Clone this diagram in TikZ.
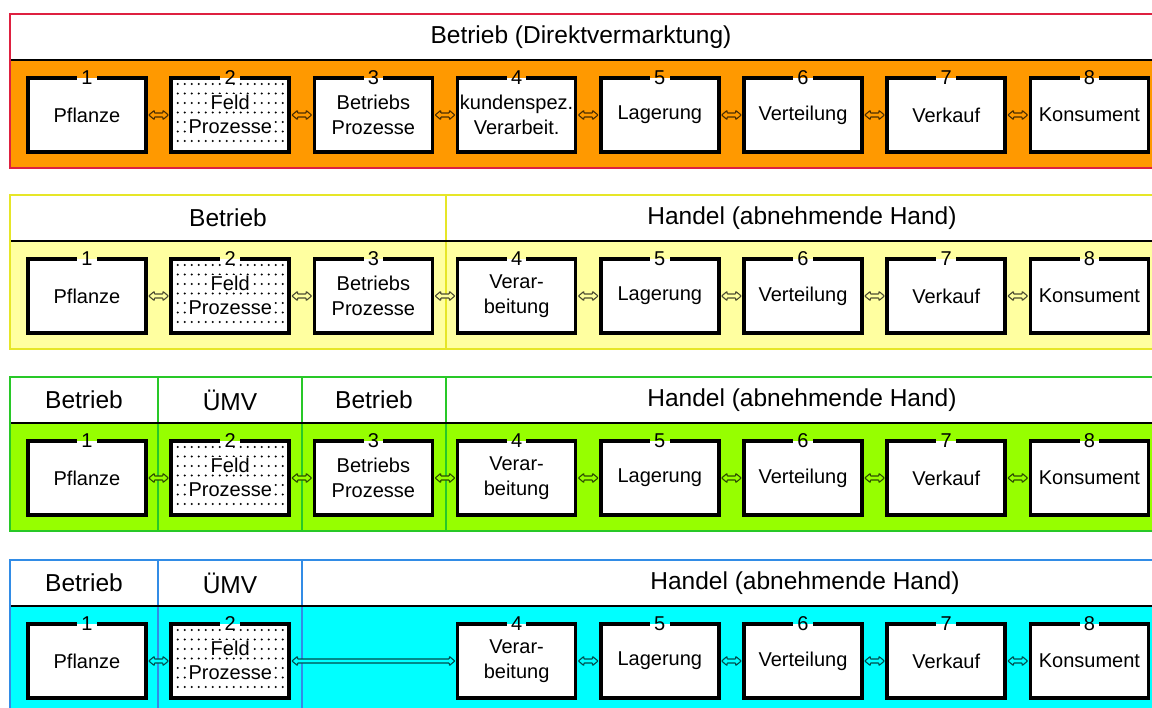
\documentclass[tikz,border=0pt]{standalone}
\usepackage{fontspec}
\setmainfont{Liberation Sans}
\usetikzlibrary{calc}

\definecolor{orangebody}{RGB}{255,153,0}
\definecolor{redframe}{RGB}{222,32,64}
\definecolor{yellowbody}{RGB}{255,255,160}
\definecolor{yellowframe}{RGB}{230,230,40}
\definecolor{greenbody}{RGB}{150,255,0}
\definecolor{greenframe}{RGB}{40,200,40}
\definecolor{cyanbody}{RGB}{0,255,255}
\definecolor{blueframe}{RGB}{50,140,230}

\tikzset{
  procbox/.style={fill=white, minimum width=118bp, minimum height=74bp,
    inner sep=0pt, outer sep=0pt, align=center,
    font=\fontsize{20bp}{25bp}\selectfont},
  numlabel/.style={font=\fontsize{20bp}{20bp}\selectfont, inner sep=0pt,
    outer sep=0pt, minimum width=23bp, minimum height=14bp},
  boxline/.style={line width=3.5bp, line cap=rect, line join=miter},
  fieldtext/.style={fill=white, inner sep=1bp, font=\fontsize{20bp}{25bp}\selectfont},
  headtext/.style={font=\fontsize{24.5bp}{28bp}\selectfont, inner sep=0pt},
  arrowline/.style={draw=#1!30!black, fill=#1, line width=1.1bp,
    line join=round, rounded corners=0.6bp},
}

% band: top edge, body colour, frame colour, divider positions
\newcommand\bandbg[4]{%
  \fill[#2] (10,#1+46) rectangle (1162,#1+154);
  \fill[white] (10,#1) rectangle (1162,#1+46);
  \foreach \dx in {#4} {\draw[#3, line width=1.6bp] (\dx,#1) -- (\dx,#1+154);}
  \draw[line width=2bp] (10,#1+46) -- (1162,#1+46);
  \draw[#3, line width=2bp] (10,#1) rectangle (1162,#1+154);
}

% process step: name, column, band top, number, text
\newcommand\procstep[5]{%
  \pgfmathsetmacro\px{87+143.2*(#2-1)}%
  \pgfmathsetmacro\py{#3+101}%
  \node[procbox] (#1) at (\px,\py) {#5};
  \node[numlabel] (#1n) at (#1.north) {#4};
  \draw[boxline] (#1n.east) -| (#1.south east) -| (#1.north west) -- (#1n.west);
}

% dotted field step in column 2: name, band top
\newcommand\fieldstep[2]{%
  \pgfmathsetmacro\px{87+143.2}%
  \pgfmathsetmacro\py{#2+101}%
  \node[procbox] (#1) at (\px,\py) {};
  \foreach \i in {0,...,15} {\foreach \j in {0,...,6} {%
    \fill (\px-52.5+7*\i, \py-31+9.5*\j) circle (1.15bp);}}
  \fill[white] (\px-9,\py-35.5) rectangle (\px+3,\py-28);
  \node[fieldtext] at (\px,\py-13) {Feld};
  \node[fieldtext] at (\px,\py+12) {Prozesse};
  \node[numlabel] (#1n) at (#1.north) {2};
  \draw[boxline] (#1n.east) -| (#1.south east) -| (#1.north west) -- (#1n.west);
}

% hollow double-headed arrow between two steps: from, to, colour
\newcommand\biarrow[3]{%
  \draw[arrowline=#3] let \p1=(#1.east), \p2=(#2.west) in
    (\x1+2.8bp,\y1) -- (\x1+8.3bp,\y1+4.6bp) -- (\x1+8.3bp,\y1+2bp)
    -- (\x2-8.3bp,\y1+2bp) -- (\x2-8.3bp,\y1+4.6bp) -- (\x2-2.8bp,\y1)
    -- (\x2-8.3bp,\y1-4.6bp) -- (\x2-8.3bp,\y1-2bp) -- (\x1+8.3bp,\y1-2bp)
    -- (\x1+8.3bp,\y1-4.6bp) -- cycle;
}

\begin{document}
\begin{tikzpicture}[x=1bp, y=-1bp]
\useasboundingbox (0,0) rectangle (1152,708);
\clip (0,0) rectangle (1152,708);
\fill[white] (0,0) rectangle (1152,708);

% ---- direct marketing chain
\bandbg{14}{orangebody}{redframe}{}
\node[headtext] (h1) at (581,37) {Betrieb (Direktvermarktung)};
\procstep{a1}{1}{14}{1}{Pflanze}
\fieldstep{a2}{14}
\procstep{a3}{3}{14}{3}{Betriebs\\Prozesse}
\procstep{a4}{4}{14}{4}{kundenspez.\\Verarbeit.}
\procstep{a5}{5}{14}{5}{Lagerung}
\procstep{a6}{6}{14}{6}{Verteilung}
\procstep{a7}{7}{14}{7}{Verkauf}
\procstep{a8}{8}{14}{8}{Konsument}
\foreach \u/\v in {a1/a2,a2/a3,a3/a4,a4/a5,a5/a6,a6/a7,a7/a8}
  {\biarrow{\u}{\v}{orangebody}}

% ---- farm and trade
\bandbg{195}{yellowbody}{yellowframe}{446}
\node[headtext] (h2a) at (228,218) {Betrieb};
\node[headtext] (h2b) at (802,218) {Handel (abnehmende Hand)};
\procstep{b1}{1}{195}{1}{Pflanze}
\fieldstep{b2}{195}
\procstep{b3}{3}{195}{3}{Betriebs\\Prozesse}
\procstep{b4}{4}{195}{4}{Verar-\\beitung}
\procstep{b5}{5}{195}{5}{Lagerung}
\procstep{b6}{6}{195}{6}{Verteilung}
\procstep{b7}{7}{195}{7}{Verkauf}
\procstep{b8}{8}{195}{8}{Konsument}
\foreach \u/\v in {b1/b2,b2/b3,b3/b4,b4/b5,b5/b6,b6/b7,b7/b8}
  {\biarrow{\u}{\v}{yellowbody}}

% ---- farm, machinery ring, farm, trade
\bandbg{377}{greenbody}{greenframe}{158,302,446}
\node[headtext] (h3a) at (84,400) {Betrieb};
\node[headtext] (h3b) at (230,400) {ÜMV};
\node[headtext] (h3c) at (374,400) {Betrieb};
\node[headtext] (h3d) at (802,400) {Handel (abnehmende Hand)};
\procstep{c1}{1}{377}{1}{Pflanze}
\fieldstep{c2}{377}
\procstep{c3}{3}{377}{3}{Betriebs\\Prozesse}
\procstep{c4}{4}{377}{4}{Verar-\\beitung}
\procstep{c5}{5}{377}{5}{Lagerung}
\procstep{c6}{6}{377}{6}{Verteilung}
\procstep{c7}{7}{377}{7}{Verkauf}
\procstep{c8}{8}{377}{8}{Konsument}
\foreach \u/\v in {c1/c2,c2/c3,c3/c4,c4/c5,c5/c6,c6/c7,c7/c8}
  {\biarrow{\u}{\v}{greenbody}}

% ---- farm, machinery ring, trade
\bandbg{560}{cyanbody}{blueframe}{158,302}
\node[headtext] (h4a) at (84,583) {Betrieb};
\node[headtext] (h4b) at (230,583) {ÜMV};
\node[headtext] (h4c) at (805,583) {Handel (abnehmende Hand)};
\procstep{d1}{1}{560}{1}{Pflanze}
\fieldstep{d2}{560}
\procstep{d4}{4}{560}{4}{Verar-\\beitung}
\procstep{d5}{5}{560}{5}{Lagerung}
\procstep{d6}{6}{560}{6}{Verteilung}
\procstep{d7}{7}{560}{7}{Verkauf}
\procstep{d8}{8}{560}{8}{Konsument}
\foreach \u/\v in {d1/d2,d2/d4,d4/d5,d5/d6,d6/d7,d7/d8}
  {\biarrow{\u}{\v}{cyanbody}}
\end{tikzpicture}
\end{document}
